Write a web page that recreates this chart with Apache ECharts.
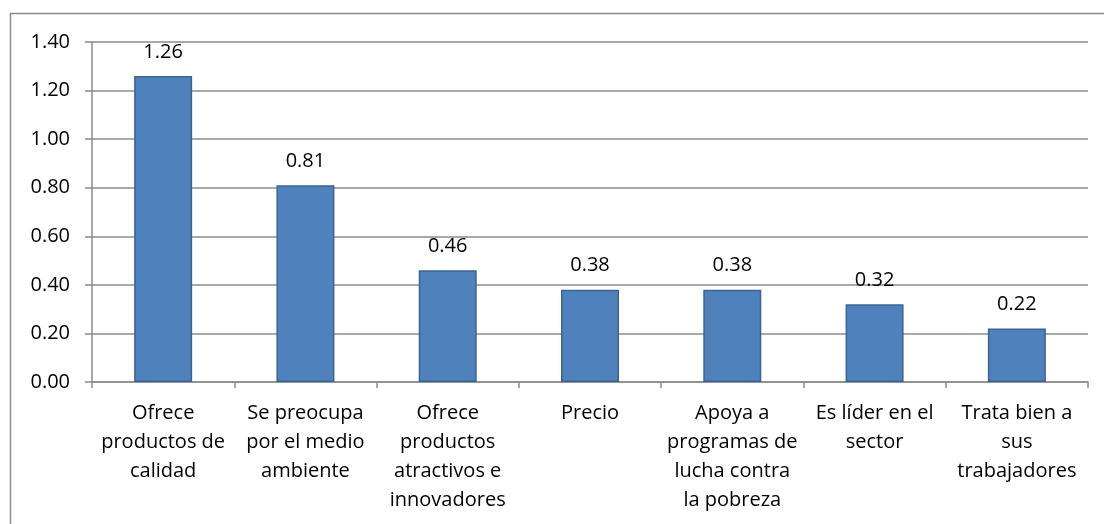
<!DOCTYPE html>
<html>
<head>
<meta charset="utf-8">
<script src="https://cdn.jsdelivr.net/npm/echarts@6/dist/echarts.min.js"></script>
<style>
  html, body { margin: 0; padding: 0; background: #fff; }
  #chart { width: 1104px; height: 524px; }
</style>
</head>
<body>
<div id="chart"></div>
<script>
// categorias (con saltos de linea como en el original)
var categories = [
  "Ofrece\nproductos de\ncalidad",
  "Se preocupa\npor el medio\nambiente",
  "Ofrece\nproductos\natractivos e\ninnovadores",
  "Precio",
  "Apoya a\nprogramas de\nlucha contra\nla pobreza",
  "Es líder en el\nsector",
  "Trata bien a\nsus\ntrabajadores"
];
var values = [1.26, 0.81, 0.46, 0.38, 0.38, 0.32, 0.22];
var yTicks = { min: 0, max: 1.4, interval: 0.2 };

var fontName = "'Open Sans', 'Liberation Sans', sans-serif";

var myChart = echarts.init(document.getElementById("chart"));
var option = {
  animation: false,
  backgroundColor: "#fff",
  graphic: [
    {
      type: "rect",
      shape: { x: 10.5, y: 13.5, width: 1200, height: 600 },
      style: { fill: "none", stroke: "#8a8a8a", lineWidth: 1.5 },
      silent: true
    }
  ],
  grid: { left: 92, right: 16, top: 42, bottom: 142 },
  xAxis: {
    type: "category",
    data: categories,
    axisLine: { lineStyle: { color: "#8c8c8c", width: 1.5 } },
    axisTick: { show: true, length: 6, lineStyle: { color: "#8c8c8c", width: 1.5 } },
    axisLabel: {
      interval: 0,
      margin: 17,
      color: "#000",
      fontFamily: fontName,
      fontSize: 20,
      lineHeight: 29,
      align: "center"
    }
  },
  yAxis: {
    type: "value",
    min: yTicks.min,
    max: yTicks.max,
    interval: yTicks.interval,
    axisLine: { show: true, lineStyle: { color: "#8c8c8c", width: 1.5 } },
    axisTick: { show: true, length: 7, lineStyle: { color: "#8c8c8c", width: 1.5 } },
    splitLine: { lineStyle: { color: "#8c8c8c", width: 1.5 } },
    axisLabel: {
      margin: 22,
      color: "#000",
      fontFamily: fontName,
      fontSize: 20,
      formatter: function (v) { return v.toFixed(2); }
    }
  },
  series: [
    {
      type: "bar",
      data: values,
      barWidth: 58,
      itemStyle: { color: "#4F81BD", borderColor: "#3A6494", borderWidth: 1.5 },
      label: {
        show: true,
        position: "top",
        distance: 14,
        color: "#000",
        fontFamily: fontName,
        fontSize: 20,
        formatter: function (p) { return p.value.toFixed(2); }
      }
    }
  ]
};
myChart.setOption(option);
</script>
</body>
</html>
